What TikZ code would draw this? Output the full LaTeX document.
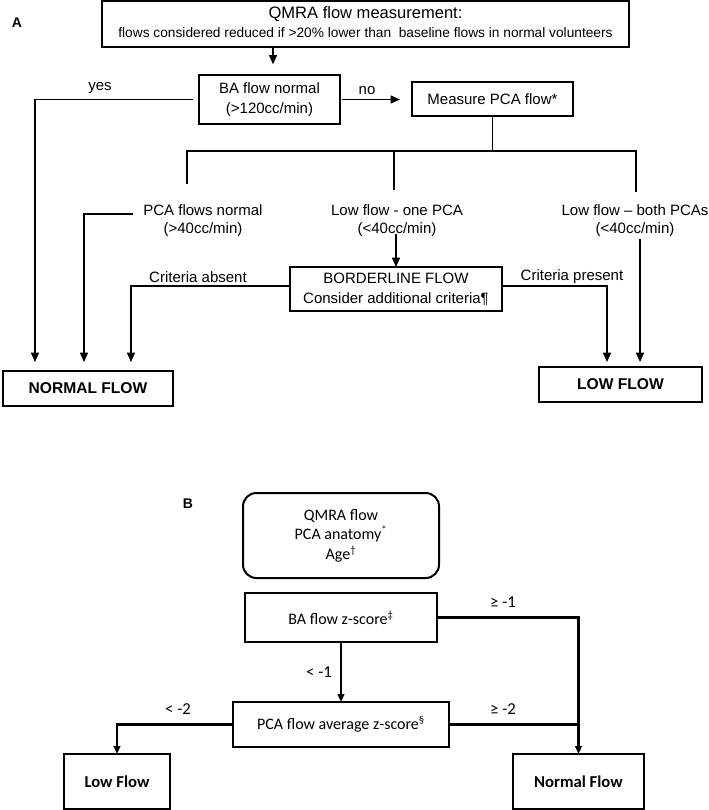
\documentclass[tikz,border=0pt]{standalone}
\usepackage{fontspec}
\setmainfont{Liberation Sans}
\newfontfamily\calib{Carlito}
\usetikzlibrary{arrows.meta}
\begin{document}
\begin{tikzpicture}[x=0.75pt,y=-0.75pt,
  every node/.style={inner sep=0pt, outer sep=0pt},
  sz/.style 2 args={minimum width=#1*0.75pt, minimum height=#2*0.75pt},
  abox/.style={draw, line width=1.1pt, align=center, font=\fontsize{11.25}{15}\selectfont},
  atext/.style={align=center, font=\fontsize{11.25}{13.5}\selectfont},
  abold/.style={draw, line width=1.1pt, align=center, font=\bfseries\fontsize{11.7}{14}\selectfont},
  aline/.style={line width=1.1pt},
  aarrow/.style={line width=1.1pt, -{Triangle[length=7pt,width=6pt]}},
  bbox/.style={draw, line width=1.5pt, align=center, font=\calib\fontsize{12}{14.6}\selectfont},
  bline/.style={line width=1.6pt},
  barrow/.style={line width=1.6pt, -{Triangle[length=6pt,width=5pt]}},
  blabel/.style={font=\calib\fontsize{12.5}{15}\selectfont},
  panel/.style={font=\bfseries\fontsize{10.5}{12}\selectfont},
]
\useasboundingbox (0,0) rectangle (709,810);

% ---------------- Panel A ----------------
\node[panel] (lA) at (17,23) {A};
\node[abox, sz={527}{46}] (top) at (365.5,24)
  {\raisebox{-4pt}{\begin{tabular}{@{}c@{}}
   {\fontsize{12.4}{15}\selectfont QMRA flow measurement:}\\[-1pt]
   {\fontsize{10.3}{12}\selectfont flows considered reduced if >20\% lower than\ \ baseline flows in normal volunteers}
   \end{tabular}}};
\node[abox, sz={141}{49}] (ba) at (269.5,99.5) {BA flow normal\\(>120cc/min)};
\node[abox, sz={161}{34}] (pca) at (492.5,99) {Measure PCA flow*};

\draw[aarrow, shorten >=8pt] (top.south -| 273,0) -- (ba.north -| 273,0);

\coordinate (nfa) at (35,362);
\coordinate (nfb) at (84,362);
\coordinate (nfc) at (131,362);
\coordinate (lfa) at (607,362);
\coordinate (lfb) at (640,362);

\draw[aarrow] ([xshift=-4.5pt]ba.west) -| (nfa);
\node[atext] (yes) at (100,88) {yes};
\draw[aarrow, shorten <=1.5pt, shorten >=9pt] (ba.east) -- (ba.east -| pca.west);
\node[atext] (no) at (367,91) {no};

\coordinate (j1) at (187,151);
\coordinate (j3) at (636,151);
\coordinate (br1) at (187,184);
\coordinate (br2) at (394,190);
\coordinate (br3) at (636,192);
\draw[aline] (pca.south) -- (pca.south |- j1);
\draw[aline] (br1) -- (j1) -- (j3) -- (br3);
\draw[aline] (br2) -- (br2 |- j1);

\node[atext] (pn) at (203,221) {PCA flows normal\\(>40cc/min)};
\node[atext] (one) at (397,221) {Low flow - one PCA\\(<40cc/min)};
\node[atext] (both) at (635,221) {Low flow – both PCAs\\(<40cc/min)};

\node[abox, sz={212}{44}] (bl) at (396,289) {BORDERLINE FLOW\\Consider additional criteria¶};

\draw[aarrow] (pn.north west) ++(-10,9) -| (nfb);
\draw[aarrow] ([yshift=2pt]one.south -| bl.north) -- (bl.north);
\draw[aarrow] (both.south -| lfb) ++(0,2) -- (lfb);

\draw[aarrow] ([yshift=2.25pt]bl.west) -| (nfc);
\node[atext] (cabs) at (198,277) {Criteria absent};
\draw[aarrow] ([yshift=2.25pt]bl.east) -| (lfa);
\node[atext] (cpres) at (572,277) {Criteria present};

\node[abold, sz={170}{35}] (nf) at (88,388.5) {NORMAL FLOW};
\node[abold, sz={163}{35}] (lf) at (620.5,384.5) {LOW FLOW};

% ---------------- Panel B ----------------
\node[panel] (lB) at (188,504) {B};
\node[bbox, rounded corners=10pt, sz={196}{85}] (inp) at (341,535.5)
  {QMRA flow\\PCA anatomy\textsuperscript{*}\\Age\textsuperscript{†}};
\node[bbox, sz={192}{49}] (baz) at (341,617.5) {BA flow z-score\textsuperscript{‡}};
\node[bbox, sz={216}{45}] (pcaz) at (341,724.5) {PCA flow average z-score\textsuperscript{§}};
\node[bbox, sz={106}{55}, font=\calib\bfseries\fontsize{12.5}{15}\selectfont] (lflw) at (117,781.5) {Low Flow};
\node[bbox, sz={131}{55}, font=\calib\bfseries\fontsize{12.5}{15}\selectfont] (nflw) at (578.5,781.5) {Normal Flow};

\draw[barrow] (baz.east) -| (nflw.north);
\draw[barrow] (baz.south) -- (pcaz.north);
\draw[barrow] (pcaz.west) -| (lflw.north);
\draw[bline] (pcaz.east) -- (pcaz.east -| nflw.north);

\node[blabel] (g1) at (503,602) {≥ -1};
\node[blabel] (l1) at (319,672) {< -1};
\node[blabel] (l2) at (178,709) {< -2};
\node[blabel] (g2) at (503,709) {≥ -2};
\end{tikzpicture}
\end{document}
